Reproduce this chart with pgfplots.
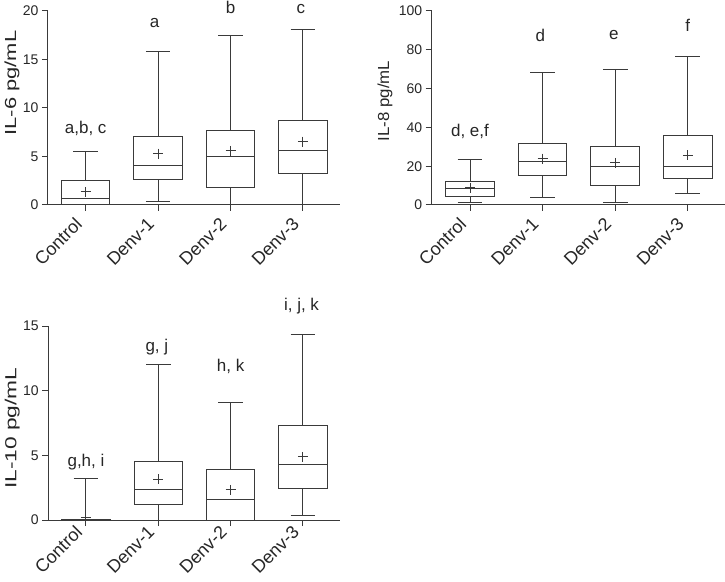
\documentclass[border=0pt]{standalone}
\usepackage{fontspec}
\setmainfont{Liberation Sans}
\usepackage{pgfplots}
\pgfplotsset{compat=1.18}
\usepgfplotslibrary{statistics}
\definecolor{ln}{HTML}{3A3A3A}
\tikzset{lbl/.style={font=\fontsize{17}{19}\selectfont, anchor=base, text=black!85}}
\pgfplotsset{
  panel/.style={
    scale only axis, height=194pt,
    axis x line=bottom, axis y line=left,
    axis line style={-, ln, line width=1pt},
    ymin=0,
    xtick={1,2,3,4}, xticklabels={Control,Denv-1,Denv-2,Denv-3},
    tick align=outside, major tick length=6pt,
    tick style={ln, line width=1pt},
    x tick label style={font=\fontsize{18}{20}\selectfont, yshift=#1, xshift=-7pt, rotate=45, anchor=east, inner sep=0pt, text=black!85},
    y tick label style={font=\fontsize{14}{16}\selectfont, text=black!85},
    /pgf/number format/assume math mode=true,
    clip=false,
    boxplot/draw direction=y,
    boxplot/box extend=0.67,
    boxplot/whisker extend=0.34,
  },
  bx/.style={ln, line width=1pt, solid, mark=none},
  mn/.style={only marks, mark=+, mark size=5pt, ln, line width=1pt, mark options={solid}},
  yl/.style={every axis y label/.style={at={(axis description cs:#1)}, rotate=90, anchor=center, inner sep=0pt, text=black!85, font=\fontsize{16}{18}\selectfont}},
}
\begin{document}
\begin{tikzpicture}
\path[use as bounding box] (0,0) rectangle (725pt,581pt);
% IL-6
\begin{axis}[panel=-10pt, at={(48pt,376pt)}, anchor=south west, width=292pt,
  xmin=0.479, xmax=4.512, ymax=20, ytick={0,5,10,15,20},
  yl={-0.123,0.629}, ylabel={\scalebox{1.37}[1]{IL-6 pg/mL}}]
\addplot[bx, boxplot prepared={draw position=1, lower whisker=0, lower quartile=0.05, median=0.65, upper quartile=2.51, upper whisker=5.47}] coordinates {};
\addplot[bx, boxplot prepared={draw position=2, lower whisker=0.38, lower quartile=2.62, median=4.1, upper quartile=7.09, upper whisker=15.87}] coordinates {};
\addplot[bx, boxplot prepared={draw position=3, lower whisker=0, lower quartile=1.79, median=4.96, upper quartile=7.64, upper whisker=17.52}] coordinates {};
\addplot[bx, boxplot prepared={draw position=4, lower whisker=0, lower quartile=3.2, median=5.65, upper quartile=8.74, upper whisker=18.07}] coordinates {};
\addplot[mn] coordinates {(1,1.35) (2,5.3) (3,5.58) (4,6.54)};
\node[lbl] at (axis cs:1,7.37) {a,b, c};
\node[lbl] at (axis cs:1.95,18.3) {a};
\node[lbl] at (axis cs:3,19.7) {b};
\node[lbl] at (axis cs:3.97,19.7) {c};
\end{axis}
% IL-8
\begin{axis}[panel=-10pt, at={(431.7pt,376pt)}, anchor=south west, width=293.3pt,
  xmin=0.4725, xmax=4.5125, ymax=100, ytick={0,20,40,60,80,100},
  yl={-0.159,0.536}, ylabel={\scalebox{1.05}[1]{IL-8 pg/mL}}]
\addplot[bx, boxplot prepared={draw position=1, lower whisker=1.5, lower quartile=4.5, median=8.4, upper quartile=11.9, upper whisker=23.6}] coordinates {};
\addplot[bx, boxplot prepared={draw position=2, lower whisker=4.1, lower quartile=15.3, median=22.2, upper quartile=31.7, upper whisker=68.3}] coordinates {};
\addplot[bx, boxplot prepared={draw position=3, lower whisker=1.5, lower quartile=10.2, median=20.0, upper quartile=30.0, upper whisker=70.0}] coordinates {};
\addplot[bx, boxplot prepared={draw position=4, lower whisker=5.9, lower quartile=13.6, median=19.6, upper quartile=35.8, upper whisker=76.8}] coordinates {};
\addplot[mn] coordinates {(1,9.0) (2,23.9) (3,21.7) (4,25.6)};
\node[lbl] at (axis cs:1,35.1) {d, e,f};
\node[lbl] at (axis cs:1.97,84.2) {d};
\node[lbl] at (axis cs:2.98,85.4) {e};
\node[lbl] at (axis cs:4,89.3) {f};
\end{axis}
% IL-10
\begin{axis}[panel=-3pt, at={(48.3pt,61pt)}, anchor=south west, width=291.7pt,
  xmin=0.479, xmax=4.512, ymax=15, ytick={0,5,10,15},
  yl={-0.124,0.473}, ylabel={\scalebox{1.42}[1]{IL-10 pg/mL}}]
\addplot[bx, boxplot prepared={draw position=1, lower whisker=0, lower quartile=0, median=0, upper quartile=0.04, upper whisker=3.22}] coordinates {};
\addplot[bx, boxplot prepared={draw position=2, lower whisker=0, lower quartile=1.21, median=2.32, upper quartile=4.55, upper whisker=12.0}] coordinates {};
\addplot[bx, boxplot prepared={draw position=3, lower whisker=0, lower quartile=0, median=1.62, upper quartile=3.94, upper whisker=9.11}] coordinates {};
\addplot[bx, boxplot prepared={draw position=4, lower whisker=0.31, lower quartile=2.44, median=4.3, upper quartile=7.33, upper whisker=14.36}] coordinates {};
\addplot[mn] coordinates {(1,0.2) (2,3.16) (3,2.32) (4,4.89)};
\node[lbl] at (axis cs:1,4.12) {g,h, i};
\node[lbl] at (axis cs:1.98,13.04) {g, j};
\node[lbl] at (axis cs:3,11.5) {h, k};
\node[lbl] at (axis cs:3.98,16.16) {i, j, k};
\end{axis}
\end{tikzpicture}
\end{document}
